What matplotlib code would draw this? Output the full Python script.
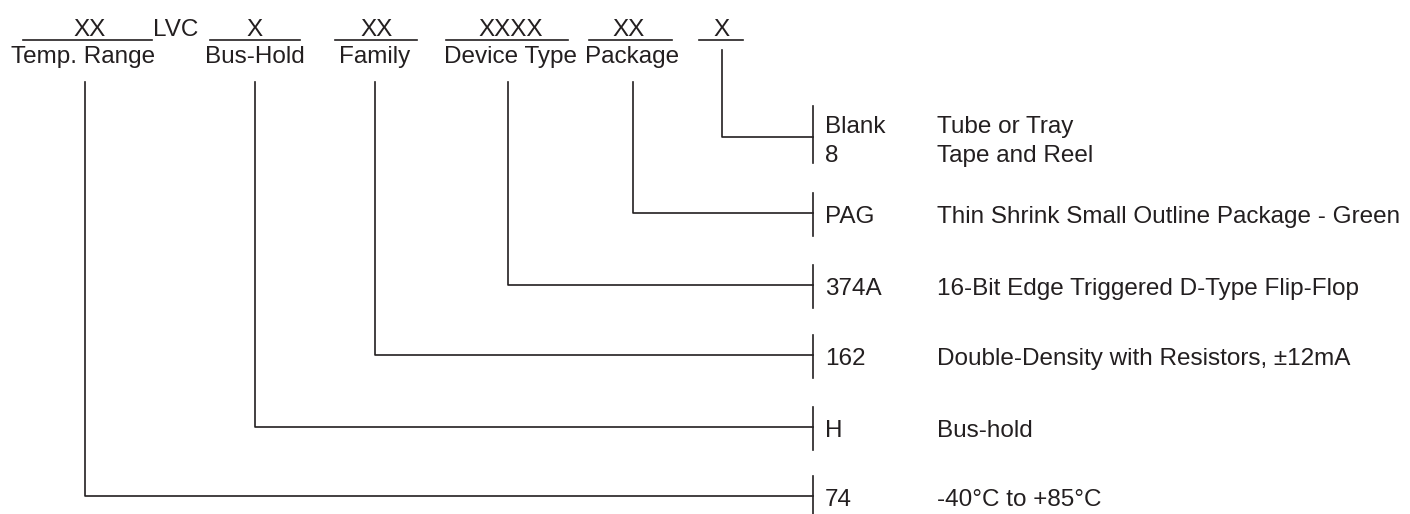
import matplotlib
matplotlib.use("Agg")
import matplotlib.pyplot as plt

plt.rcParams['font.family'] = ['Liberation Sans', 'DejaVu Sans']

# Champs du numéro de pièce (de gauche à droite)
codes = ['XX', 'X', 'XX', 'XXXX', 'XX', 'X']
fields = ['Temp. Range', 'Bus-Hold', 'Family', 'Device Type', 'Package', '']
prefix = 'LVC'

# Options de chaque champ (lignes de droite)
option_codes = [['74'], ['H'], ['162'], ['374A'], ['PAG'], ['Blank', '8']]
option_texts = [
    ['-40°C to +85°C'],
    ['Bus-hold'],
    ['Double-Density with Resistors, ±12mA'],
    ['16-Bit Edge Triggered D-Type Flip-Flop'],
    ['Thin Shrink Small Outline Package - Green'],
    ['Tube or Tray', 'Tape and Reel'],
]

# Mise en page (pixels)
line_x0 = [23, 210, 335, 446, 589, 699]
line_x1 = [152, 300, 417, 568, 672, 743]
code_x = [90, 255, 377, 511, 629, 722]
field_x = [83, 255, 375, 510, 632, 722]
drop_x = [85, 255, 375, 508, 633, 722]
drop_top = [82, 82, 82, 82, 82, 50]
row_y = [496, 427, 355, 285, 213, 137]
bar_x = 813
code_col = 825
text_col = 937

ink = '#231f20'
lw = 1.2
fs = 17.5

fig = plt.figure(figsize=(14.1, 5.14), dpi=100)
ax = fig.add_axes([0, 0, 1, 1])
ax.set_xlim(0, 1410)
ax.set_ylim(514, 0)
ax.axis('off')

ax.text(153, 36, prefix, fontsize=fs, color=ink, ha='left', va='baseline')

for i in range(len(codes)):
    ax.plot([line_x0[i], line_x1[i]], [40, 40], color=ink, lw=lw)
    ax.text(code_x[i], 36, codes[i], fontsize=fs, color=ink, ha='center', va='baseline')
    if fields[i]:
        ax.text(field_x[i], 63, fields[i], fontsize=fs, color=ink, ha='center', va='baseline')

    y = row_y[i]
    ax.plot([drop_x[i], drop_x[i], bar_x], [drop_top[i], y, y], color=ink, lw=lw)

    if len(option_codes[i]) == 1:
        ax.plot([bar_x, bar_x], [y - 20, y + 23], color=ink, lw=lw)
        ax.text(code_col, y + 10, option_codes[i][0], fontsize=fs, color=ink, va='baseline')
        ax.text(text_col, y + 10, option_texts[i][0], fontsize=fs, color=ink, va='baseline')
    else:
        ax.plot([bar_x, bar_x], [y - 31, y + 26], color=ink, lw=lw)
        for k, (c, t) in enumerate(zip(option_codes[i], option_texts[i])):
            base = y - 4 + 29 * k
            ax.text(code_col, base, c, fontsize=fs, color=ink, va='baseline')
            ax.text(text_col, base, t, fontsize=fs, color=ink, va='baseline')

fig.savefig('out.png', dpi=100)
